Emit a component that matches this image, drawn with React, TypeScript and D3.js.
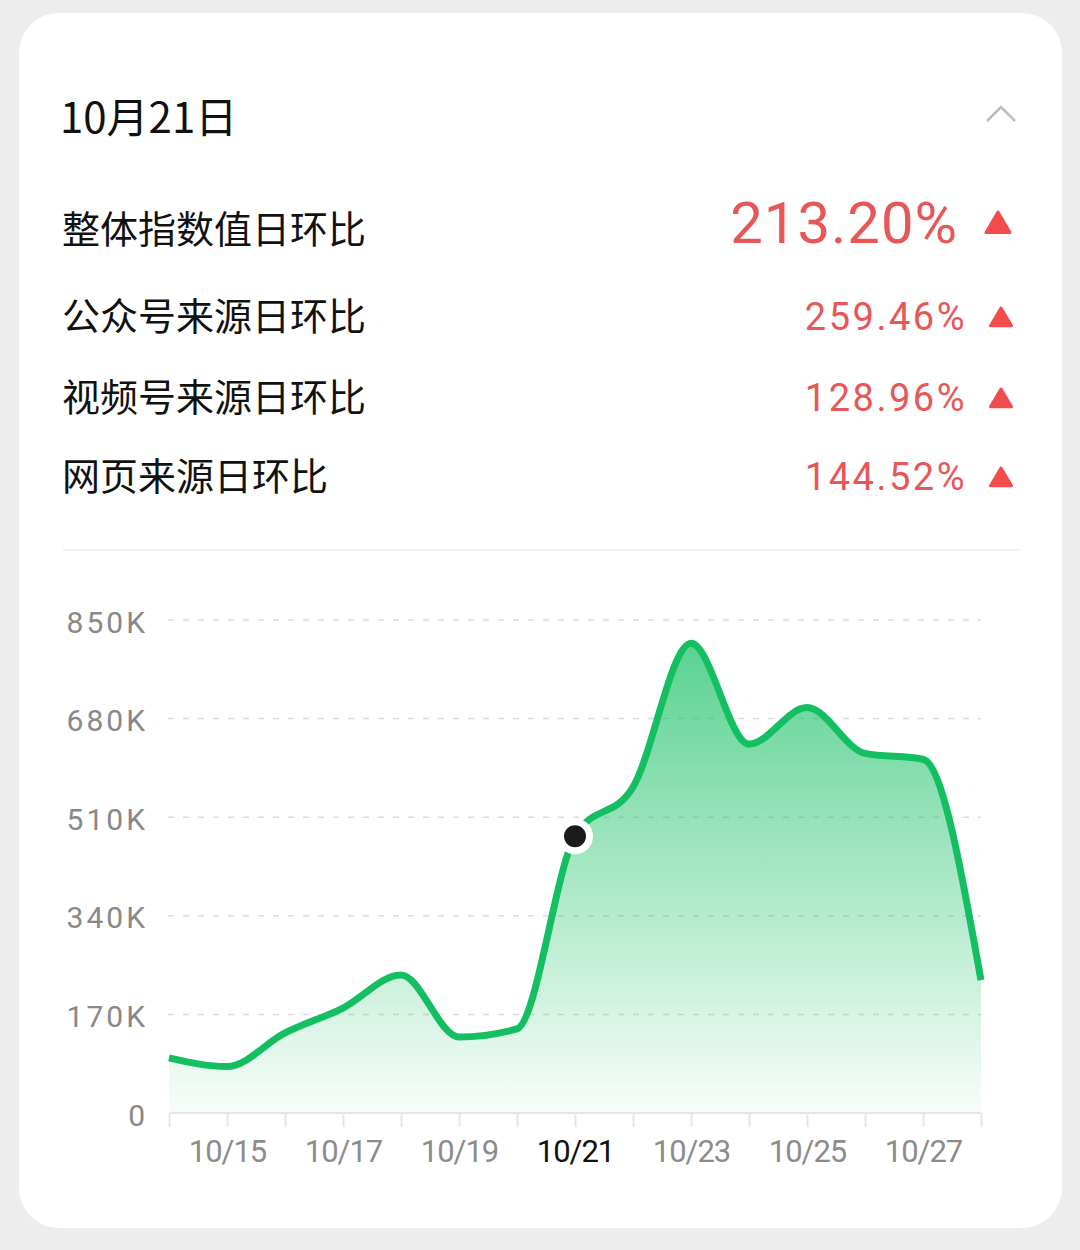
import { useEffect, useRef } from 'react';
import * as d3 from 'd3';

// chart data
const dates = [
  '10/14', '10/15', '10/16', '10/17', '10/18', '10/19', '10/20', '10/21',
  '10/22', '10/23', '10/24', '10/25', '10/26', '10/27', '10/28',
];
const values = [
  95000, 80000, 138000, 181000, 238000, 131000, 145000, 477000,
  562000, 810000, 636000, 699000, 620000, 610000, 229000,
];
const yTicks = [0, 170000, 340000, 510000, 680000, 850000];
const labelDates = ['10/15', '10/17', '10/19', '10/21', '10/23', '10/25', '10/27'];
const selectedDate = '10/21';

const dayTitle = '10月21日';
const headlineName = '整体指数值日环比';
const headlineValue = '213.20%';
const metricNames = ['公众号来源日环比', '视频号来源日环比', '网页来源日环比'];
const metricValues = ['259.46%', '128.96%', '144.52%'];

const cjk = '"Noto Sans CJK SC", "Noto Sans", sans-serif';
const num = 'Roboto, "Noto Sans", sans-serif';
const green = '#14bf62';
const red = '#e85757';

export default function App() {
  const ref = useRef<SVGSVGElement>(null);

  useEffect(() => {
    const svg = d3.select(ref.current);
    svg.selectAll('*').remove();

    // card
    svg.append('rect').attr('width', 1080).attr('height', 1250).attr('fill', '#ededed');
    svg
      .append('rect')
      .attr('x', 19)
      .attr('y', 13)
      .attr('width', 1043)
      .attr('height', 1215)
      .attr('rx', 40)
      .attr('fill', '#fff');

    // header
    svg
      .append('text')
      .attr('x', 60)
      .attr('y', 133)
      .style('font-family', cjk)
      .style('font-size', '42px')
      .style('font-weight', 400)
      .attr('fill', '#111')
      .text(dayTitle);
    svg
      .append('path')
      .attr('d', 'M987,121 L1001,107 L1015,121')
      .attr('fill', 'none')
      .attr('stroke', '#bdbdbd')
      .attr('stroke-width', 2.5);

    const triangle = (cx: number, top: number, size: number) =>
      `M${cx - size / 2},${top + size * 0.85} L${cx},${top} L${cx + size / 2},${top + size * 0.85} Z`;

    svg
      .append('text')
      .attr('x', 62)
      .attr('y', 243)
      .style('font-family', cjk)
      .style('font-size', '38px')
      .attr('fill', '#111')
      .text(headlineName);
    svg
      .append('text')
      .attr('x', 958)
      .attr('y', 243)
      .attr('text-anchor', 'end')
      .style('font-family', num)
      .style('font-size', '58px')
      .style('letter-spacing', '1px')
      .attr('fill', red)
      .text(headlineValue);
    svg
      .append('path')
      .attr('d', triangle(998, 212, 24))
      .attr('fill', '#f24c4c')
      .attr('stroke', '#f24c4c')
      .attr('stroke-width', 3)
      .attr('stroke-linejoin', 'round');

    const rowBase = [330, 411, 490];
    metricNames.forEach((name, i) => {
      svg
        .append('text')
        .attr('x', 62)
        .attr('y', rowBase[i])
        .style('font-family', cjk)
        .style('font-size', '38px')
        .attr('fill', '#111')
        .text(name);
      svg
        .append('text')
        .attr('x', 967)
        .attr('y', rowBase[i])
        .attr('text-anchor', 'end')
        .style('font-family', num)
        .style('font-size', '38px')
        .style('letter-spacing', '2.5px')
        .attr('fill', red)
        .text(metricValues[i]);
      svg
        .append('path')
        .attr('d', triangle(1001, rowBase[i] - 22, 21))
        .attr('fill', '#f24c4c')
        .attr('stroke', '#f24c4c')
        .attr('stroke-width', 3)
        .attr('stroke-linejoin', 'round');
    });

    svg
      .append('line')
      .attr('x1', 63)
      .attr('x2', 1020)
      .attr('y1', 550)
      .attr('y2', 550)
      .attr('stroke', '#ededed')
      .attr('stroke-width', 1.5);

    // chart
    const x = d3.scalePoint<string>().domain(dates).range([169, 981]);
    const y = d3.scaleLinear().domain([0, 850000]).range([1113, 620]);
    const points = dates.map((d, i) => ({ date: d, value: values[i] }));

    svg
      .append('g')
      .selectAll('line')
      .data(yTicks.filter(t => t > 0))
      .enter()
      .append('line')
      .attr('x1', 168)
      .attr('x2', 981)
      .attr('y1', d => y(d))
      .attr('y2', d => y(d))
      .attr('stroke', '#dcdcdc')
      .attr('stroke-width', 1.5)
      .attr('stroke-dasharray', '6 9');

    const yAxis = d3
      .axisLeft(y)
      .tickValues(yTicks)
      .tickSize(0)
      .tickPadding(20)
      .tickFormat(d => (+d === 0 ? '0' : `${+d / 1000}K`));
    const yg = svg.append('g').attr('transform', 'translate(168,0)').call(yAxis);
    yg.select('.domain').remove();
    yg.selectAll('text')
      .attr('dy', '0.4em')
      .attr('fill', '#888')
      .style('font-family', num)
      .style('font-size', '30px')
      .style('letter-spacing', '3px');

    const defs = svg.append('defs');
    const grad = defs
      .append('linearGradient')
      .attr('id', 'areaFill')
      .attr('gradientUnits', 'userSpaceOnUse')
      .attr('x1', 0)
      .attr('x2', 0)
      .attr('y1', y(d3.max(values) as number))
      .attr('y2', y(0));
    grad.append('stop').attr('offset', '0%').attr('stop-color', green).attr('stop-opacity', 0.7);
    grad.append('stop').attr('offset', '100%').attr('stop-color', green).attr('stop-opacity', 0.03);

    const area = d3
      .area<{ date: string; value: number }>()
      .x(d => x(d.date) as number)
      .y0(y(0))
      .y1(d => y(d.value))
      .curve(d3.curveMonotoneX);
    const line = d3
      .line<{ date: string; value: number }>()
      .x(d => x(d.date) as number)
      .y(d => y(d.value))
      .curve(d3.curveMonotoneX);

    svg.append('path').datum(points).attr('d', area).attr('fill', 'url(#areaFill)');

    const xAxis = d3
      .axisBottom(x)
      .tickSize(14)
      .tickPadding(13)
      .tickFormat(d => (labelDates.includes(d) ? d : ''));
    const xg = svg.append('g').attr('transform', `translate(0,${y(0)})`).call(xAxis);
    xg.select('.domain')
      .attr('stroke', '#e6e6e6')
      .attr('stroke-width', 2)
      .attr('d', `M${x(dates[0])},0H${x(dates[dates.length - 1])}`);
    xg.selectAll('.tick line').attr('stroke', '#e6e6e6').attr('stroke-width', 2);
    xg.selectAll('text')
      .attr('fill', d => (d === selectedDate ? '#111' : '#8c8c8c'))
      .style('font-family', num)
      .style('font-size', '31px')
      .style('letter-spacing', '-1px');

    svg
      .append('path')
      .datum(points)
      .attr('d', line)
      .attr('fill', 'none')
      .attr('stroke', green)
      .attr('stroke-width', 7);

    const sel = points.find(p => p.date === selectedDate)!;
    svg
      .append('circle')
      .attr('cx', x(sel.date) as number)
      .attr('cy', y(sel.value))
      .attr('r', 18)
      .attr('fill', '#fff');
    svg
      .append('circle')
      .attr('cx', x(sel.date) as number)
      .attr('cy', y(sel.value))
      .attr('r', 11)
      .attr('fill', '#1a1a1a');
  }, []);

  return (
    <svg
      ref={ref}
      width={1080}
      height={1250}
      style={{ position: 'absolute', left: 0, top: 0, display: 'block' }}
    />
  );
}
